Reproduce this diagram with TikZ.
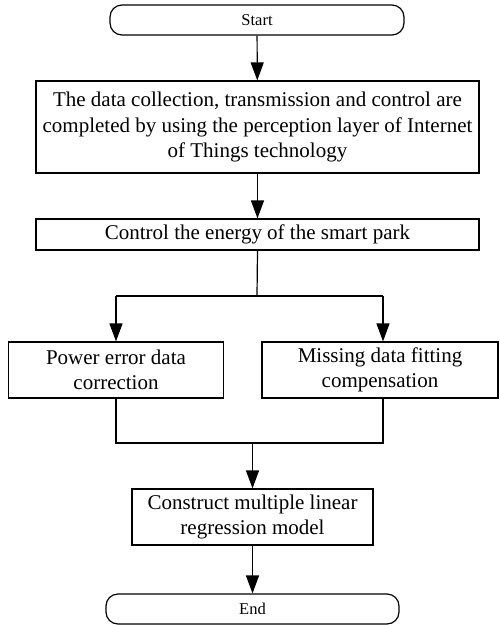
\documentclass[tikz,border=0pt]{standalone}
\usepackage{fontspec}
\setmainfont{Liberation Serif}
\usetikzlibrary{arrows.meta}
\begin{document}
\begin{tikzpicture}[x=1pt,y=-1pt,
  box/.style={draw, line width=1.2pt, align=center, inner sep=0pt, font=\fontsize{21}{25.5}\selectfont},
  term/.style={draw, line width=1.2pt, rounded corners=12pt, inner sep=0pt, font=\fontsize{16.5}{18}\selectfont},
  arr/.style={line width=1.2pt, -{Triangle[length=18pt,width=13pt]}},
  ln/.style={line width=1.2pt}]
\useasboundingbox (0,0) rectangle (499,625);
\node[term, minimum width=294pt, minimum height=30pt] (start) at (257,20) {Start};
\node[box, minimum width=443pt, minimum height=92pt] (b2) at (257.5,127) {The data collection, transmission and control are\\completed by using the perception layer of Internet\\of Things technology};
\node[box, minimum width=443pt, minimum height=31pt] (b3) at (257.5,234.5) {Control the energy of the smart park};
\node[box, minimum width=215pt, minimum height=56pt] (left) at (116,370) {Power error data\\correction};
\node[box, minimum width=236pt, minimum height=56pt] (right) at (380,370) {Missing data fitting\\compensation};
\node[box, minimum width=241pt, minimum height=56pt] (b5) at (252.5,517) {Construct multiple linear\\regression model};
\node[term, minimum width=293pt, minimum height=30pt] (end) at (252.5,609) {End};
\coordinate (jn) at (257,296);
\coordinate (jl) at (116,296);
\coordinate (jr) at (383,296);
\coordinate (ml) at (116,443);
\coordinate (mr) at (383,443);
\coordinate (mm) at (252.5,443);
\draw[arr] (start) -- (b2);
\draw[arr] (b2) -- (b3);
\draw[ln] (b3.south) -- (jn);
\draw[ln] (jl) -- (jr);
\draw[arr] (jl) -- (left.north);
\draw[arr] (jr) -- (jr |- right.north);
\draw[ln] (left.south) -- (ml) -- (mr) -- (mr |- right.south);
\draw[arr] (mm) -- (b5.north);
\draw[arr] (b5) -- (end);
\end{tikzpicture}
\end{document}
